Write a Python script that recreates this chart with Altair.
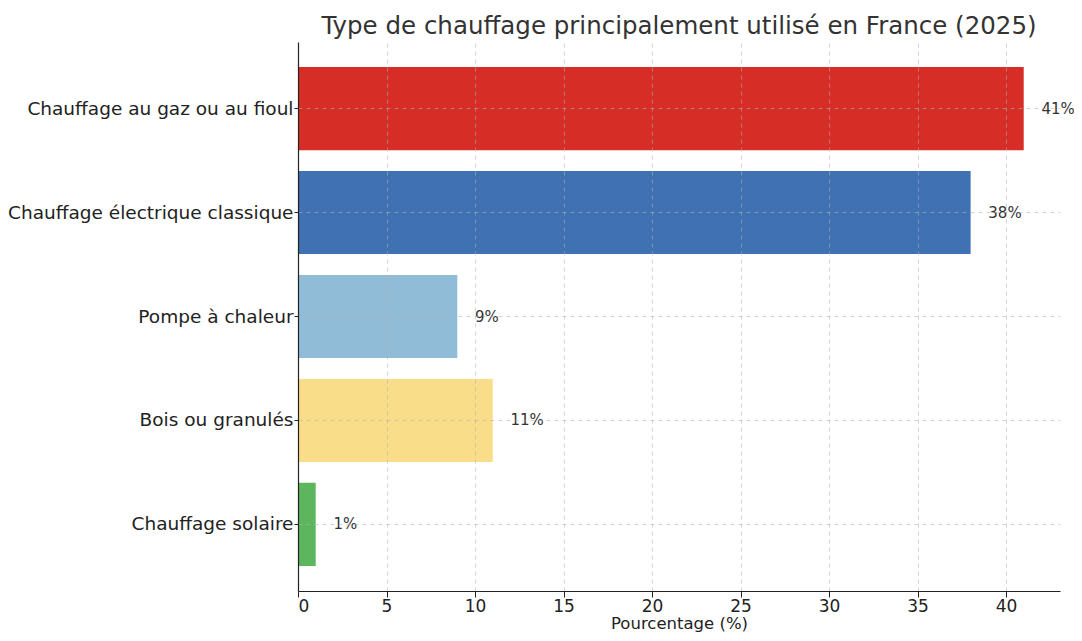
import altair as alt
import pandas as pd

categories = ["Chauffage au gaz ou au fioul", "Chauffage électrique classique",
              "Pompe à chaleur", "Bois ou granulés", "Chauffage solaire"]
values = [41, 38, 9, 11, 1]
colors = ["#d62d27", "#3f71b3", "#90bcd8", "#fadd89", "#5db65d"]

df = pd.DataFrame({"cat": categories, "val": values, "col": colors})

FONT = "DejaVu Sans"

y_enc = alt.Y("cat:N", sort=categories, title=None,
              scale=alt.Scale(paddingInner=0.2, paddingOuter=0.24),
              axis=alt.Axis(labelFontSize=18.5, labelColor="#222", labelFont=FONT,
                            tickSize=4, tickColor="#222", labelPadding=1,
                            domainColor="#222", domainWidth=1.2,
                            grid=True, gridColor="#b0b0b0", gridDash=[4, 4],
                            gridOpacity=0.7, gridWidth=0.8, zindex=1, labelLimit=400))
x_scale = alt.Scale(domain=[0, 43.05], nice=False, zero=True)

bars = alt.Chart(df).mark_bar().encode(
    x=alt.X("val:Q", scale=x_scale, title="Pourcentage (%)",
            axis=alt.Axis(values=[0, 5, 10, 15, 20, 25, 30, 35, 40],
                          labelFontSize=17, labelColor="#222", labelFont=FONT,
                          tickSize=6, tickColor="#222", labelPadding=1,
                          domainColor="#222", domainWidth=1.2,
                          titleFontSize=16.5, titleFont=FONT, titleFontWeight="normal",
                          titleColor="#222", titlePadding=1,
                          grid=True, gridColor="#b0b0b0", gridDash=[4, 4],
                          gridOpacity=0.7, gridWidth=0.8, zindex=1)),
    y=y_enc,
    color=alt.Color("col:N", scale=None),
)

texts = alt.Chart(df).transform_calculate(
    pos="datum.val + 1", lab="datum.val + '%'"
).mark_text(align="left", baseline="middle", fontSize=15, font=FONT, color="#333").encode(
    x=alt.X("pos:Q", scale=x_scale),
    y=alt.Y("cat:N", sort=categories),
    text="lab:N",
)

chart = alt.layer(bars, texts).properties(
    width=762, height=549,
    title=alt.TitleParams("Type de chauffage principalement utilisé en France (2025)",
                          fontSize=24.5, font=FONT, fontWeight="normal", color="#333",
                          offset=3, anchor="middle"),
    autosize=alt.AutoSizeParams(type="none"),
    padding={"left": 290, "top": 34, "right": 14, "bottom": 42},
).configure_view(stroke=None).configure_axis(domain=True)

chart.save("out.html", embed_options={"renderer": "svg", "actions": False})
